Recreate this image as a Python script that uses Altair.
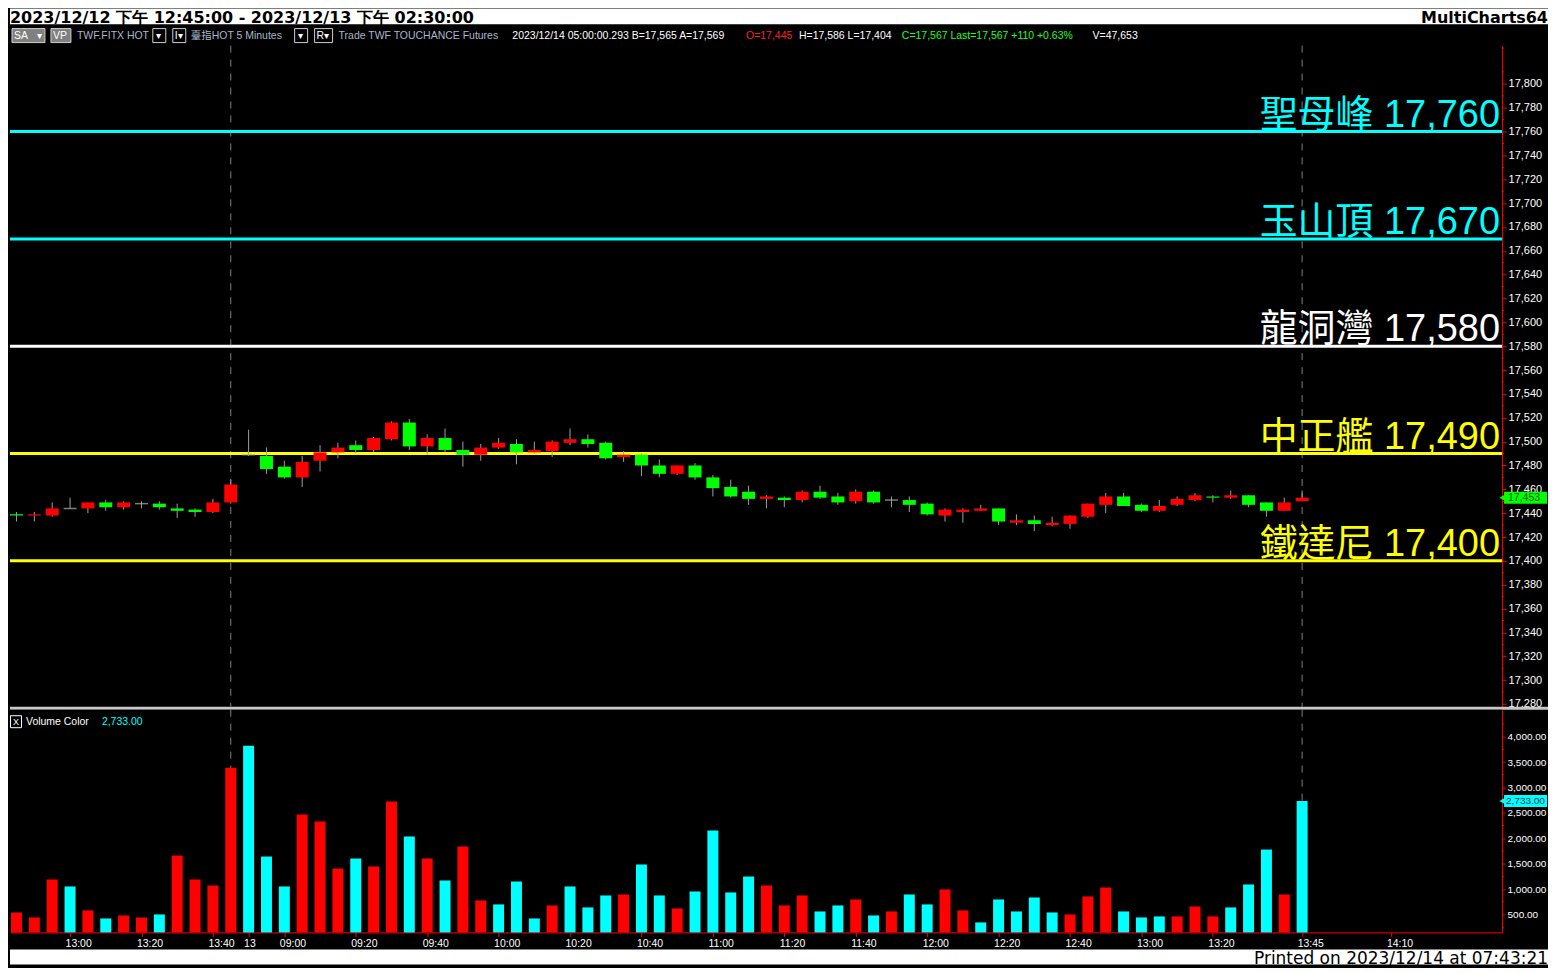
import altair as alt
import pandas as pd
import numpy as np

# ---------------- data ----------------
header_left = "2023/12/12 下午 12:45:00 - 2023/12/13 下午 02:30:00"
header_right = "MultiCharts64"
footer_text = "Printed on 2023/12/14 at 07:43:21"

opens = [17439, 17438, 17438, 17444, 17444, 17449, 17445, 17448, 17448, 17444,
         17443, 17441, 17449, 17489, 17488, 17479, 17470, 17484, 17491, 17497,
         17493, 17502, 17516, 17496, 17503, 17493, 17489, 17495, 17498, 17491,
         17492, 17499, 17502, 17499, 17487, 17489, 17480, 17473, 17480, 17470,
         17462, 17458, 17452, 17453, 17451, 17458, 17454, 17450, 17458, 17451,
         17451, 17448, 17438, 17441, 17442, 17444, 17432, 17434, 17430, 17431,
         17437, 17447, 17454, 17447, 17442, 17447, 17451, 17454, 17453, 17455,
         17449, 17442, 17450]
highs = [17441, 17441, 17449, 17453, 17449, 17451, 17450, 17450, 17450, 17448,
         17444, 17452, 17468, 17510, 17495, 17484, 17488, 17497, 17499, 17501,
         17504, 17517, 17519, 17506, 17511, 17500, 17498, 17503, 17502, 17500,
         17501, 17511, 17506, 17500, 17492, 17490, 17485, 17480, 17482, 17472,
         17468, 17463, 17455, 17454, 17459, 17463, 17457, 17460, 17459, 17454,
         17454, 17449, 17444, 17444, 17447, 17444, 17439, 17438, 17437, 17438,
         17448, 17457, 17457, 17448, 17451, 17454, 17457, 17455, 17459, 17455,
         17449, 17453, 17459]
lows = [17433, 17433, 17437, 17444, 17440, 17442, 17443, 17444, 17443, 17436,
        17437, 17440, 17448, 17488, 17473, 17469, 17462, 17475, 17486, 17490,
        17491, 17501, 17493, 17489, 17491, 17479, 17484, 17494, 17481, 17490,
        17487, 17497, 17495, 17485, 17483, 17471, 17470, 17472, 17468, 17454,
        17453, 17447, 17444, 17445, 17449, 17452, 17447, 17448, 17448, 17445,
        17441, 17438, 17433, 17432, 17442, 17430, 17430, 17425, 17429, 17427,
        17436, 17440, 17446, 17441, 17441, 17446, 17450, 17449, 17452, 17445,
        17437, 17442, 17450]
closes = [17438, 17439, 17444, 17444, 17449, 17445, 17449, 17448, 17445, 17442,
          17441, 17449, 17464, 17489, 17477, 17470, 17483, 17491, 17495, 17493,
          17503, 17516, 17496, 17503, 17493, 17489, 17495, 17499, 17491, 17493,
          17500, 17502, 17498, 17486, 17489, 17480, 17473, 17480, 17470, 17461,
          17454, 17452, 17454, 17451, 17458, 17453, 17449, 17458, 17449, 17451,
          17447, 17439, 17443, 17443, 17444, 17433, 17434, 17431, 17432, 17438,
          17448, 17454, 17446, 17442, 17446, 17452, 17455, 17453, 17455, 17447,
          17442, 17449, 17453]
volumes = [540, 441, 1188, 1051, 579, 421, 480, 441, 500, 1660,
           1188, 1070, 3390, 3823, 1640, 1051, 2466, 2329, 1404, 1601,
           1444, 2722, 2034, 1601, 1168, 1837, 775, 697, 1149, 421,
           677, 1051, 638, 874, 893, 1483, 874, 618, 952, 2152,
           933, 1247, 1070, 677, 874, 559, 677, 795, 480, 559,
           893, 697, 992, 579, 343, 795, 559, 834, 539, 500,
           854, 1031, 559, 441, 461, 461, 657, 461, 638, 1090,
           1778, 893, 2733]
vol_colors = ["R", "R", "R", "C", "R", "C", "R", "R", "C", "R",
              "R", "R", "R", "C", "C", "C", "R", "R", "R", "C",
              "R", "R", "C", "R", "C", "R", "R", "C", "C", "C",
              "R", "C", "C", "C", "R", "C", "C", "R", "C", "C",
              "C", "C", "R", "R", "R", "C", "C", "R", "C", "R",
              "C", "C", "R", "R", "C", "C", "C", "C", "C", "R",
              "R", "R", "C", "C", "C", "R", "R", "R", "C", "C",
              "C", "R", "C"]

tick_idx = [3, 7, 11, 13, 15, 19, 23, 27, 31, 35, 39, 43, 47, 51, 55, 59, 63, 67, 72, 77]
tick_lab = ["13:00", "13:20", "13:40", "13", "09:00", "09:20", "09:40", "10:00", "10:20",
            "10:40", "11:00", "11:20", "11:40", "12:00", "12:20", "12:40", "13:00",
            "13:20", "13:45", "14:10"]

levels = [17760, 17670, 17580, 17490, 17400]
level_names = ["聖母峰", "玉山頂", "龍洞灣", "中正艦", "鐵達尼"]
level_colors = ["#00ffff", "#00ffff", "#ffffff", "#ffff00", "#ffff00"]

session_breaks = [12, 72]
price_ticks = [17280, 17300, 17320, 17340, 17360, 17380, 17400, 17420, 17440, 17460,
               17480, 17500, 17520, 17540, 17560, 17580, 17600, 17620, 17640, 17660,
               17680, 17700, 17720, 17740, 17760, 17780, 17800]
price_minor = [17290, 17310, 17330, 17350, 17370, 17390, 17410, 17430, 17450, 17470,
               17490, 17510, 17530, 17550, 17570, 17590, 17610, 17630, 17650, 17670,
               17690, 17710, 17730, 17750, 17770, 17790, 17810, 17830]
vol_ticks = [500, 1000, 1500, 2000, 2500, 3000, 3500, 4000]
vol_minor = [250, 750, 1250, 1750, 2250, 2750, 3250, 3750, 4250]
last_price = 17453
last_volume = 2733

toolbar_text = ["SA", "▾", "VP", "TWF.FITX HOT", "▾", "I▾", "臺指HOT  5 Minutes", "▾", "R▾",
                "Trade  TWF  TOUCHANCE  Futures",
                "2023/12/14  05:00:00.293  B=17,565  A=17,569", "O=17,445",
                "H=17,586  L=17,404", "C=17,567  Last=17,567  +110  +0.63%", "V=47,653"]
toolbar_x = [4, 27, 43, 67, 146, 165, 181, 288, 307, 329, 503, 737, 790, 893, 1084]
toolbar_color = ["#ffffff", "#ffffff", "#ffffff", "#a9b6cc", "#ffffff", "#ffffff", "#a9b6cc",
                 "#ffffff", "#ffffff", "#a9b6cc", "#ffffff", "#ff2020", "#ffffff",
                 "#20ff20", "#ffffff"]
box_x1 = [2, 41, 143, 163, 285, 305]
box_x2 = [35, 61, 156, 176, 298, 323]
box_fill = ["#808080", "#808080", "#000000", "#000000", "#000000", "#000000"]

# ---------------- geometry ----------------
W_FULL = 1540
W_PLOT = 1494
H_HEAD, H_TOOL, H_PRICE, H_SEP, H_VOL, H_GAP, H_FOOT = 16, 21, 662, 3, 223, 17, 15

xs = alt.Scale(domain=[-0.0833, 82.9167], nice=False, zero=False)
ys = alt.Scale(domain=[17277.7, 17832.1], nice=False, zero=False)
vs = alt.Scale(domain=[146, 4531], nice=False, zero=False)

RED = "#ff0000"
GREEN = "#00ff00"
CYAN = "#00ffff"
WICK = "#a0a0a0"
FONT = "Liberation Sans"

df = pd.DataFrame({"i": np.arange(len(opens)), "open": opens, "high": highs,
                   "low": lows, "close": closes, "vol": volumes, "vc": vol_colors})
df["dir"] = np.where(df["close"] > df["open"], "up",
                     np.where(df["close"] < df["open"], "down", "flat"))
df["bcol"] = df["dir"].map({"up": RED, "down": GREEN, "flat": "#b0b0b0"})
df["vcol"] = df["vc"].map({"R": RED, "C": CYAN})
df["vbase"] = 146

lv = pd.DataFrame({"level": levels, "name": level_names, "color": level_colors})
lv["label"] = lv["name"] + " " + lv["level"].map(lambda v: f"{v:,}")
brk = pd.DataFrame({"i": session_breaks})

p_axis = alt.Axis(orient="right", values=price_ticks, format=",d", labelColor="#ffffff",
                  labelFont=FONT, labelFontSize=11, tickColor=RED, domainColor=RED,
                  tickSize=4, labelPadding=2, grid=False, title=None)
v_axis = alt.Axis(orient="right", values=vol_ticks, format=",.2f", labelColor="#ffffff",
                  labelFont=FONT, labelFontSize=10, tickColor=RED, domainColor=RED,
                  tickSize=3, labelPadding=2, grid=False, title=None)

expr = "''"
for idx, lab in zip(reversed(tick_idx), reversed(tick_lab)):
    expr = f"datum.value == {idx} ? '{lab}' : " + expr
x_axis = alt.Axis(values=tick_idx, labelExpr=expr, labelAlign="left", labelColor="#ffffff",
                  labelFont=FONT, labelFontSize=10.5, tickColor=RED, domainColor=RED,
                  tickSize=4, labelPadding=2, labelOffset=-5, grid=False, title=None,
                  labelFlush=False, labelOverlap=False)

def view(fill):
    return alt.ViewBackground(fill=fill, stroke=None)

# ---------------- header ----------------
hdr = pd.DataFrame({"l": [header_left], "r": [header_right]})
header = alt.layer(
    alt.Chart(hdr).mark_text(align="left", baseline="alphabetic", font="DejaVu Sans",
                             fontSize=16, fontWeight="bold", color="#000000")
    .encode(x=alt.value(0), y=alt.value(14.5), text="l:N"),
    alt.Chart(hdr).mark_text(align="right", baseline="alphabetic", font="DejaVu Sans",
                             fontSize=16, fontWeight="bold", color="#000000")
    .encode(x=alt.value(W_FULL), y=alt.value(14.5), text="r:N"),
).properties(width=W_FULL, height=H_HEAD, view=view("#ffffff"))

# ---------------- toolbar ----------------
tb = pd.DataFrame({"x": toolbar_x, "t": toolbar_text, "c": toolbar_color})
bx = pd.DataFrame({"x1": box_x1, "x2": box_x2, "f": box_fill})
toolbar = alt.layer(
    alt.Chart(bx).mark_rect(stroke="#d0d0d0", strokeWidth=1)
    .encode(x=alt.X("x1:Q", scale=None), x2="x2:Q", y=alt.value(4), y2=alt.value(18),
            fill=alt.Fill("f:N", scale=None)),
    alt.Chart(tb).mark_text(align="left", baseline="middle", font=FONT + ", Noto Sans CJK TC",
                            fontSize=10.5)
    .encode(x=alt.X("x:Q", scale=None), y=alt.value(11), text="t:N",
            color=alt.Color("c:N", scale=None)),
).properties(width=W_FULL, height=H_TOOL, view=view("#000000"))

# ---------------- price panel ----------------
X = alt.X("i:Q", scale=xs, axis=None)
breaks_p = alt.Chart(brk).mark_rule(color="#808080", strokeDash=[7, 7], strokeWidth=1).encode(x=X)
lv_rules = alt.Chart(lv).mark_rule(strokeWidth=3).encode(
    y=alt.Y("level:Q", scale=ys, axis=p_axis), color=alt.Color("color:N", scale=None))
wicks = alt.Chart(df).mark_rule(color=WICK, strokeWidth=1).encode(
    x=X, y=alt.Y("low:Q", scale=ys, axis=p_axis), y2="high:Q")
bodies = alt.Chart(df).transform_filter("datum.dir != 'flat'").mark_bar(size=13).encode(
    x=X, y=alt.Y("open:Q", scale=ys, axis=p_axis), y2="close:Q",
    color=alt.Color("bcol:N", scale=None))
dojis = alt.Chart(df).transform_filter("datum.dir == 'flat'").mark_tick(
    orient="horizontal", size=13, thickness=1.5, color="#b0b0b0").encode(
    x=X, y=alt.Y("close:Q", scale=ys, axis=p_axis))
lv_text = alt.Chart(lv).mark_text(align="right", baseline="alphabetic", dy=-5,
                                  font=FONT + ", Noto Sans CJK TC", fontSize=38).encode(
    x=alt.value(W_PLOT - 2), y=alt.Y("level:Q", scale=ys, axis=p_axis), text="label:N",
    color=alt.Color("color:N", scale=None))
pminor = alt.Chart(pd.DataFrame({"m": price_minor})).mark_rule(color=RED, strokeWidth=1).encode(
    x=alt.value(W_PLOT), x2=alt.value(W_PLOT + 2), y=alt.Y("m:Q", scale=ys, axis=p_axis))
ptag = pd.DataFrame({"p": [last_price], "top": [last_price + 5], "bot": [last_price - 5],
                     "t": [f"{last_price:,}"]})
ptag_rect = alt.Chart(ptag).mark_rect(color=GREEN).encode(
    x=alt.value(W_PLOT + 2), x2=alt.value(W_PLOT + 45),
    y=alt.Y("top:Q", scale=ys, axis=p_axis), y2="bot:Q")
ptag_arrow = alt.Chart(ptag).mark_point(shape="triangle-left", filled=True, size=70,
                                        color=GREEN, opacity=1).encode(
    x=alt.value(W_PLOT + 1), y=alt.Y("p:Q", scale=ys, axis=p_axis))
ptag_text = alt.Chart(ptag).mark_text(align="left", baseline="middle", font=FONT,
                                      fontSize=10.5, color="#005000").encode(
    x=alt.value(W_PLOT + 6), y=alt.Y("p:Q", scale=ys, axis=p_axis), text="t:N")
price = alt.layer(breaks_p, lv_rules, wicks, bodies, dojis, lv_text, pminor,
                  ptag_rect, ptag_arrow, ptag_text).properties(
    width=W_PLOT, height=H_PRICE, view=view("#000000"))

# ---------------- separator ----------------
sep = alt.Chart(pd.DataFrame({"a": [0]})).mark_text(text="").properties(
    width=W_FULL, height=H_SEP, view=view("#c8c8c8"))

# ---------------- volume panel ----------------
XV = alt.X("i:Q", scale=xs, axis=x_axis)
breaks_v = alt.Chart(brk).mark_rule(color="#808080", strokeDash=[7, 7], strokeWidth=1).encode(x=XV)
vbars = alt.Chart(df).mark_bar(size=11).encode(
    x=XV, y=alt.Y("vol:Q", scale=vs, axis=v_axis), y2="vbase:Q",
    color=alt.Color("vcol:N", scale=None))
vminor = alt.Chart(pd.DataFrame({"m": vol_minor})).mark_rule(color=RED, strokeWidth=1).encode(
    x=alt.value(W_PLOT), x2=alt.value(W_PLOT + 2), y=alt.Y("m:Q", scale=vs, axis=v_axis))
vleg = pd.DataFrame({"t": ["Volume Color", f"{last_volume:,.2f}"], "x": [16, 92],
                     "c": ["#ffffff", CYAN]})
vleg_text = alt.Chart(vleg).mark_text(align="left", baseline="middle", font=FONT,
                                      fontSize=10.5).encode(
    x=alt.X("x:Q", scale=None), y=alt.value(12), text="t:N", color=alt.Color("c:N", scale=None))
vleg_box = alt.Chart(pd.DataFrame({"a": [0]})).mark_rect(
    fill="#000000", stroke="#ffffff", strokeWidth=1).encode(
    x=alt.value(0.5), x2=alt.value(11.5), y=alt.value(6), y2=alt.value(18))
vleg_x = alt.Chart(pd.DataFrame({"t": ["X"]})).mark_text(
    align="center", baseline="middle", font=FONT, fontSize=9, color="#ffffff").encode(
    x=alt.value(6), y=alt.value(12), text="t:N")
vtag = pd.DataFrame({"v": [last_volume], "top": [last_volume + 118], "bot": [last_volume - 118],
                     "t": [f"{last_volume:,.2f}"]})
vtag_rect = alt.Chart(vtag).mark_rect(color=CYAN).encode(
    x=alt.value(W_PLOT + 2), x2=alt.value(W_PLOT + 45),
    y=alt.Y("top:Q", scale=vs, axis=v_axis), y2="bot:Q")
vtag_arrow = alt.Chart(vtag).mark_point(shape="triangle-left", filled=True, size=70,
                                        color=CYAN, opacity=1).encode(
    x=alt.value(W_PLOT + 1), y=alt.Y("v:Q", scale=vs, axis=v_axis))
vtag_text = alt.Chart(vtag).mark_text(align="left", baseline="middle", font=FONT,
                                      fontSize=10, color="#004050").encode(
    x=alt.value(W_PLOT + 4), y=alt.Y("v:Q", scale=vs, axis=v_axis), text="t:N")
volume = alt.layer(breaks_v, vbars, vminor, vleg_box, vleg_x, vleg_text,
                   vtag_rect, vtag_arrow, vtag_text).properties(
    width=W_PLOT, height=H_VOL, view=view("#000000"))

# ---------------- spacer + footer ----------------
gap = alt.Chart(pd.DataFrame({"a": [0]})).mark_text(text="").properties(
    width=W_FULL, height=H_GAP)
footer = alt.Chart(pd.DataFrame({"t": [footer_text]})).mark_text(
    align="right", baseline="alphabetic", font="DejaVu Sans", fontSize=17,
    color="#000000").encode(x=alt.value(W_FULL), y=alt.value(H_FOOT), text="t:N").properties(
    width=W_FULL, height=H_FOOT, view=view("#ffffff"))

chart = alt.vconcat(header, toolbar, price, sep, volume, gap, footer,
                    spacing=0, bounds="flush").properties(
    background="#000000", padding=0).configure_view(stroke=None)

chart.save("out.html", embed_options={"renderer": "svg", "actions": False})
